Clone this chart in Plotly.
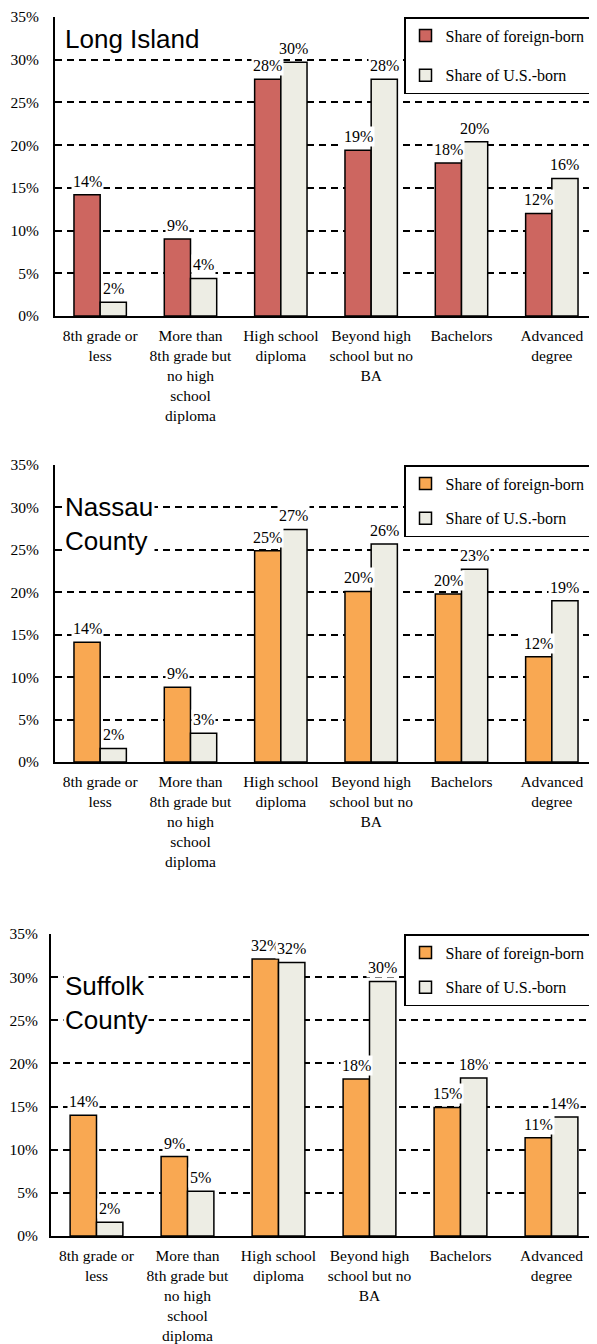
import plotly.graph_objects as go
from plotly.subplots import make_subplots

categories = [
    "8th grade or<br>less",
    "More than<br>8th grade but<br>no high<br>school<br>diploma",
    "High school<br>diploma",
    "Beyond high<br>school but no<br>BA",
    "Bachelors",
    "Advanced<br>degree",
]

li_foreign = [14.2, 9.0, 27.7, 19.4, 17.9, 12.0]
li_us = [1.6, 4.4, 29.7, 27.7, 20.4, 16.1]

nassau_foreign = [14.1, 8.8, 24.9, 20.1, 19.8, 12.4]
nassau_us = [1.6, 3.4, 27.4, 25.7, 22.7, 19.0]

suffolk_foreign = [14.0, 9.2, 32.1, 18.2, 14.9, 11.4]
suffolk_us = [1.6, 5.2, 31.7, 29.5, 18.3, 13.8]

panel_titles = ["Long Island", "Nassau<br>County", "Suffolk<br>County"]
foreign_colors = ["#CD6660", "#F9A852", "#F9A852"]
us_color = "#EDEDE4"

SERIF = "Liberation Serif, Times New Roman, serif"
SANS = "Liberation Sans, Arial, sans-serif"

OFF = 8  # page body margin
H = 1344
L = 47 - OFF
PW = 597 - OFF - L
BARGAP = 0.42

fig = make_subplots(rows=3, cols=1)

panels = [
    (li_foreign, li_us),
    (nassau_foreign, nassau_us),
    (suffolk_foreign, suffolk_us),
]
legend_names = ["legend", "legend2", "legend3"]

# screen pixel layout of each panel: (top, bottom, left)
boxes = [(17, 316, 55), (465, 762, 55), (934, 1236, 51)]
leg_gap = [16, 11, 11]
title_dy = [5, 25, 35]
ylab_pad = [11, 11, 8]

for i, (fb, us) in enumerate(panels):
    row = i + 1
    top, bottom, left = [v - OFF for v in boxes[i]]
    fig.add_trace(go.Bar(
        x=categories, y=fb, name="Share of foreign-born",
        marker=dict(color=foreign_colors[i], line=dict(color="black", width=1.5)),
        legend=legend_names[i], legendgroup="fb%d" % i,
    ), row=row, col=1)
    fig.add_trace(go.Bar(
        x=categories, y=us, name="Share of U.S.-born",
        marker=dict(color=us_color, line=dict(color="black", width=1.5)),
        legend=legend_names[i], legendgroup="us%d" % i,
    ), row=row, col=1)

    # value labels with white backing, like the original
    cat_px = (597 - OFF - left) / len(categories)
    off = cat_px * (1 - BARGAP) / 4
    xr = "x" if i == 0 else "x%d" % row
    yr = "y" if i == 0 else "y%d" % row
    for series, sign in ((fb, -1), (us, 1)):
        for c, v in zip(categories, series):
            fig.add_annotation(
                x=c, y=v, xref=xr, yref=yr, xshift=sign * off, yshift=3,
                text="%d%%" % round(v), showarrow=False, yanchor="bottom",
                bgcolor="white", borderpad=1,
                font=dict(family=SERIF, size=16, color="black"),
            )

    sfx = "" if i == 0 else str(row)
    fig.layout["xaxis" + sfx].update(
        domain=[(left - L) / PW, 1],
        showline=True, linecolor="black", linewidth=2,
        tickfont=dict(family=SERIF, size=15.5, color="black"),
        ticks="", ticklabelstandoff=4,
    )
    fig.layout["yaxis" + sfx].update(
        domain=[1 - bottom / H, 1 - top / H],
        range=[0, 35], dtick=5, ticksuffix="%",
        showline=True, linecolor="black", linewidth=2,
        showgrid=True, gridcolor="black", gridwidth=1.5, griddash="7px,5px",
        zeroline=False,
        ticks="", ticklabelstandoff=ylab_pad[i],
        tickfont=dict(family=SERIF, size=15.5, color="black"),
    )
    fig.layout[legend_names[i]] = dict(
        x=(404 - OFF - L) / PW, xanchor="left",
        y=1 - top / H, yanchor="top",
        bgcolor="white", bordercolor="black", borderwidth=1.5,
        font=dict(family=SERIF, size=16, color="black"),
        tracegroupgap=leg_gap[i], itemwidth=30,
    )
    fig.add_annotation(
        text=panel_titles[i], xref="paper", yref="paper",
        x=(63 - OFF - L) / PW, y=1 - (top + title_dy[i]) / H,
        xanchor="left", yanchor="top",
        showarrow=False, align="left", bgcolor="white",
        font=dict(family=SANS, size=26, color="black"),
    )

fig.update_layout(
    width=597 - OFF, height=H,
    margin=dict(l=L, r=0, t=0, b=0, autoexpand=False),
    barmode="group", bargap=BARGAP, bargroupgap=0,
    plot_bgcolor="white", paper_bgcolor="white",
    showlegend=True,
)

fig.write_html("out.html")
